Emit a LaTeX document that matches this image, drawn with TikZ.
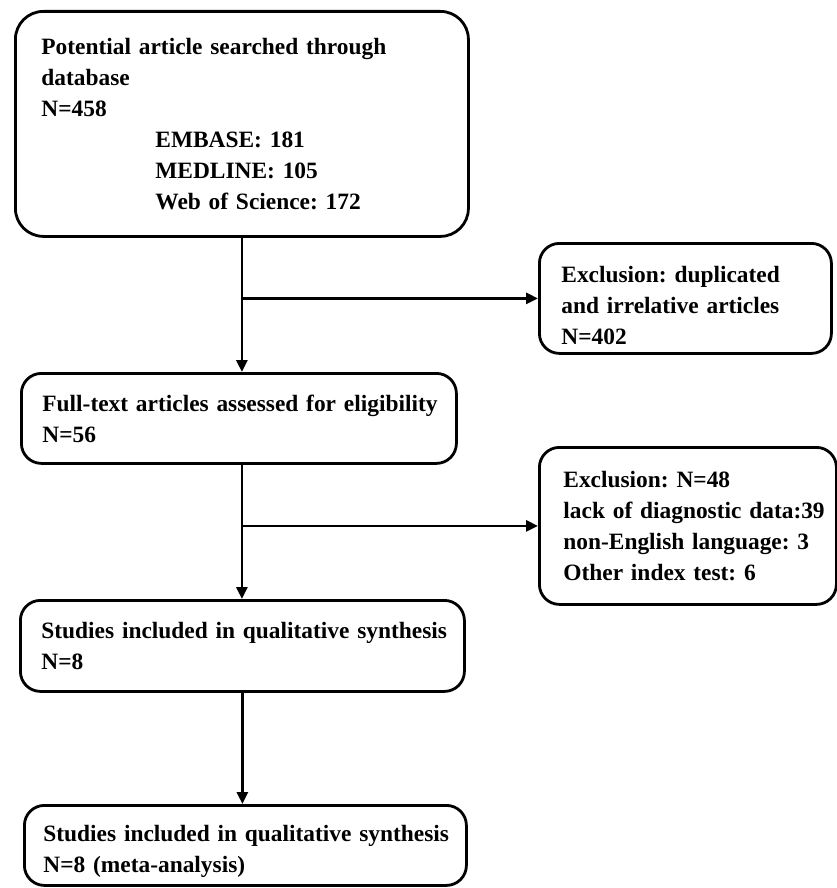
\documentclass[tikz,border=0pt]{standalone}
\usepackage{fontspec}
\setmainfont{Liberation Serif}
\usetikzlibrary{arrows.meta,calc}
\begin{document}
\begin{tikzpicture}[x=1pt,y=-1pt,
  box/.style={draw,line width=2.8pt,rounded corners=20pt,anchor=north west,
    align=left,font=\fontsize{23.4}{31}\selectfont\bfseries\frenchspacing,inner ysep=0pt},
  arr/.style={line width=2.8pt,-{Triangle[length=12pt,width=11pt]}}]
\useasboundingbox (0,0) rectangle (837,888);
\fill[white] (0,0) rectangle (837,888);
\node[box,rounded corners=28pt,minimum width=453pt,minimum height=225pt,
  inner xsep=26pt,text width=401pt] (b1) at (14,10)
  {Potential article searched through\\database\\N=458\\
   \hspace*{114pt}EMBASE: 181\\\hspace*{114pt}MEDLINE: 105\\\hspace*{114pt}Web of Science: 172};
\node[box,minimum width=292pt,minimum height=110pt,
  inner xsep=22pt,text width=248pt] (e1) at (538,242)
  {\rule{0pt}{30pt}\mbox{Exclusion: duplicated}\\\mbox{and irrelative articles}\\N=402};
\node[box,minimum width=435pt,minimum height=90pt,
  inner xsep=21pt,text width=393pt] (b2) at (20,372)
  {\mbox{Full-text articles assessed for eligibility}\\N=56};
\node[box,minimum width=297pt,minimum height=157pt,
  inner xsep=24pt,text width=249pt] (e2) at (538,446)
  {\mbox{Exclusion: N=48}\\\mbox{lack of diagnostic data:39}\\\mbox{non-English language: 3}\\\mbox{Other index test: 6}};
\node[box,minimum width=444pt,minimum height=91pt,
  inner xsep=21pt,text width=402pt] (b3) at (19,599)
  {\mbox{Studies included in qualitative synthesis}\\N=8};
\node[box,minimum width=442pt,minimum height=80pt,
  inner xsep=19pt,text width=404pt] (b4) at (23,804)
  {\rule{0pt}{28pt}\mbox{Studies included in qualitative synthesis}\\N=8 (meta-analysis)};
\draw[arr] (b1.south) -- (b1.south |- b2.north);
\coordinate (j1) at (b1.south |- e1.west);
\draw[arr] (j1) -- (e1.west);
\draw[arr] (b1.south |- b2.south) -- (b1.south |- b3.north);
\coordinate (j2) at (b1.south |- e2.west);
\draw[arr] (j2) -- (e2.west);
\draw[arr] (b3.south) -- (b3.south |- b4.north);
\end{tikzpicture}
\end{document}
